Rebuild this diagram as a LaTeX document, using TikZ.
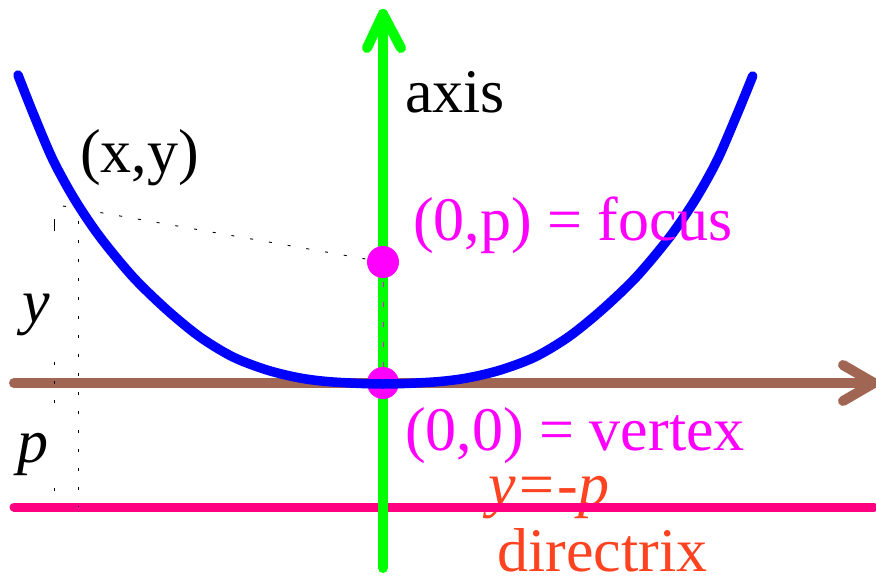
\documentclass[tikz,border=0pt]{standalone}
\usepackage{fontspec}
\setmainfont{Liberation Serif}
\begin{document}
\begin{tikzpicture}[x=1pt,y=-1pt,
  thick line/.style={line width=10pt,line cap=round,line join=round},
  guide/.style={line width=0.9pt,black,dash pattern=on 3pt off 16pt},
  lbl/.style={inner sep=0pt,anchor=base west,font=\fontsize{62}{62}\selectfont}]
\definecolor{axgreen}{RGB}{0,255,0}
\definecolor{parblue}{RGB}{0,0,255}
\definecolor{xbrown}{RGB}{161,101,83}
\definecolor{mag}{RGB}{255,0,255}
\definecolor{dirpink}{RGB}{255,0,128}
\definecolor{dirorange}{RGB}{255,66,32}
\useasboundingbox (0,0) rectangle (876,578);
% key points
\coordinate (V) at (383,383);
\coordinate (F) at (383,262);
\coordinate (P) at (63,206);
\coordinate (xl) at (14,383);
\coordinate (xr) at (874,383);
\coordinate (yb) at (383,568);
\coordinate (yt) at (383,14);
\coordinate (dl) at (14,507);
\coordinate (dr) at (874,507);
% labels under the directrix line
\node[lbl,text=dirorange] (ydir) at (488,505) {\itshape y=-p};
\node[lbl,text=dirorange] (dirtxt) at (497,571) {directrix};
% x axis (brown)
\draw[thick line,xbrown] (xl) -- (xr);
\draw[thick line,xbrown] (843,365) -- (xr) -- (843,401);
% directrix (pink)
\draw[line width=9pt,line cap=round,dirpink] (dl) -- (dr);
% green axis
\draw[thick line,axgreen] (yb) -- (yt);
\draw[thick line,axgreen] (367,48) -- (yt) -- (401,48);
% guides
\draw[guide] (P) -- (F);
\draw[guide] (78,202) -- (78,507);
\draw[guide,dash pattern=on 6pt off 0pt] (54,219) -- (54,231);
\draw[guide] (54,362) -- (54,405);
\draw[guide] (54,488) -- (54,500);
\draw[line width=0.9pt,mag,dash pattern=on 5pt off 15pt] (F) -- (V);
% dots
\fill[mag] (F) circle (16);
\fill[mag] (V) circle (16);
% parabola
\draw[line width=9.5pt,line cap=round,parblue] plot[smooth] coordinates {
 (18,75) (33,113) (53,160) (75,200) (100,237) (133,277) (167,310) (200,337)
 (233,357) (267,370) (300,378) (333,382) (383,384) (433.7,382) (467,378)
 (500.5,370) (535,357) (568.4,337) (601.8,310) (636.3,277) (669.7,237)
 (695,200) (717.3,160) (737.6,113) (752.7,76)};
% text labels
\node[lbl] (axis) at (405,112) {axis};
\node[lbl] (pt) at (80,172) {(x,y)};
\node[lbl,text=mag] (focus) at (413,240) {(0,p) = focus};
\node[lbl,text=mag] (vertex) at (405,450) {(0,0) = vertex};
\node[lbl] (ylab) at (22,322) {\itshape y};
\node[lbl] (plab) at (17,462) {\itshape p};
\end{tikzpicture}
\end{document}
